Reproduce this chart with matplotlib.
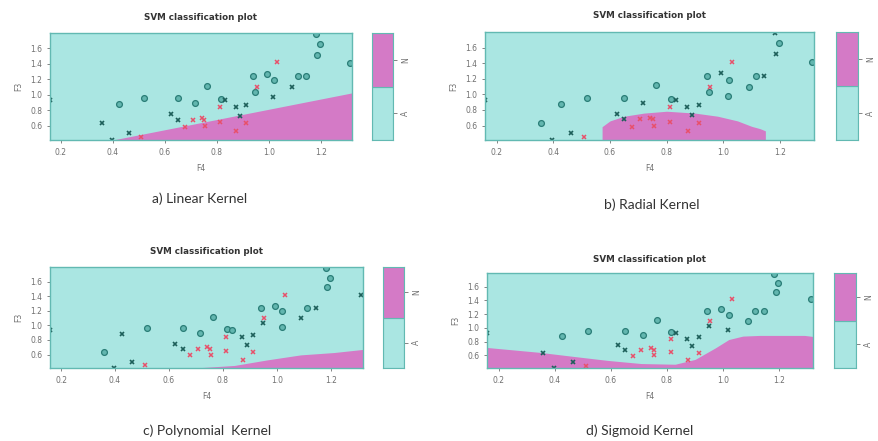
import numpy as np
import matplotlib.pyplot as plt

f4 = [0.16, 0.358, 0.426, 0.396, 0.464, 0.52, 0.51, 0.624, 0.651, 0.651,
      0.679, 0.707, 0.715, 0.743, 0.752, 0.755, 0.764, 0.813, 0.813, 0.815,
      0.833, 0.873, 0.874, 0.89, 0.913, 0.913, 0.941, 0.948, 0.954, 0.992,
      1.018, 1.02, 1.03, 1.09, 1.114, 1.144, 1.182, 1.187, 1.197, 1.313]
f3 = [0.93, 0.63, 0.876, 0.415, 0.50, 0.96, 0.45, 0.746, 0.96, 0.68,
      0.587, 0.68, 0.89, 0.70, 0.68, 0.60, 1.117, 0.837, 0.643, 0.945,
      0.93, 0.837, 0.527, 0.73, 0.63, 0.87, 1.24, 1.03, 1.10, 1.27,
      0.975, 1.19, 1.42, 1.10, 1.24, 1.24, 1.79, 1.52, 1.656, 1.415]
cls = ["A", "A", "A", "A", "A", "A", "N", "A", "A", "A",
       "N", "N", "A", "N", "N", "N", "A", "N", "N", "A",
       "A", "A", "N", "A", "N", "A", "A", "A", "N", "A",
       "A", "A", "N", "A", "A", "A", "A", "A", "A", "A"]

# support vectors ("x" markers) per kernel
sv_linear = [0, 1, 3, 4, 7, 9, 20, 21, 23, 25, 30, 33]
sv_radial = [0, 3, 4, 7, 9, 12, 20, 21, 23, 25, 29, 35, 36, 37]
sv_poly = [0, 2, 3, 4, 7, 9, 21, 23, 25, 27, 33, 35, 39]
sv_sigmoid = [0, 1, 3, 4, 7, 9, 20, 21, 23, 25, 27, 30]

# decision boundaries (class N region lies below these curves)
lin_x = [0.40, 1.32]
lin_y = [0.415, 1.025]
rad_x = [0.57, 0.57, 0.60, 0.65, 0.72, 0.80, 0.90, 0.98, 1.05, 1.10, 1.13, 1.15, 1.15]
rad_y = [0.415, 0.58, 0.66, 0.72, 0.76, 0.784, 0.76, 0.72, 0.66, 0.59, 0.56, 0.53, 0.415]
poly_x = [0.695, 0.843, 0.966, 1.089, 1.212, 1.32]
poly_y = [0.415, 0.45, 0.527, 0.595, 0.627, 0.67]
sig_x = [0.154, 0.347, 0.467, 0.588, 0.708, 0.829, 0.90, 0.973, 1.02, 1.07, 1.13, 1.29, 1.33]
sig_y = [0.716, 0.643, 0.584, 0.526, 0.48, 0.47, 0.54, 0.71, 0.83, 0.88, 0.89, 0.89, 0.87]

XLIM = (0.159, 1.32)
YLIM = (0.415, 1.80)
CYAN = "#aae6e2"
MAGENTA = "#d47ac6"
EDGE = "#62b9b2"
GREY = "#707070"

W, H = 879, 441
fig = plt.figure(figsize=(W / 100, H / 100), dpi=100)


def box(l, t, r, b):
    return [l / W, 1 - b / H, (r - l) / W, (b - t) / H]


def panel(ax_px, cb_px, bx, by, sv, title_y, caption, cap_xy):
    ax = fig.add_axes(box(*ax_px))
    ax.set_facecolor(CYAN)
    xs = np.linspace(XLIM[0], XLIM[1], 400)
    top = np.interp(xs, bx, by, left=np.nan, right=np.nan)
    ok = ~np.isnan(top)
    ax.fill_between(xs[ok], YLIM[0] - 0.1, top[ok], color=MAGENTA, lw=0)
    for i in range(len(f4)):
        if cls[i] == "N":
            ax.plot(f4[i], f3[i], "x", color="#e8506a", ms=2.6, mew=1.1)
        elif i in sv:
            ax.plot(f4[i], f3[i], "x", color="#1d5f5a", ms=3.0, mew=1.2)
        else:
            ax.plot(f4[i], f3[i], "o", mfc="#62b6af", mec="#2a7d77", ms=4.2, mew=0.9)
    ax.set_xlim(*XLIM)
    ax.set_ylim(*YLIM)
    ax.set_xticks([0.2, 0.4, 0.6, 0.8, 1.0, 1.2])
    ax.set_yticks([0.6, 0.8, 1.0, 1.2, 1.4, 1.6])
    ax.set_xticklabels(["0.2", "0.4", "0.6", "0.8", "1.0", "1.2"])
    ax.set_yticklabels(["0.6", "0.8", "1.0", "1.2", "1.4", "1.6"])
    ax.tick_params(labelsize=5.5, colors=GREY, length=2.5, width=0.6, pad=3)
    for s in ax.spines.values():
        s.set_color(EDGE)
        s.set_linewidth(1.0)
    ax.set_xlabel("F4", fontsize=5.5, color=GREY, labelpad=5)
    ax.set_ylabel("F3", fontsize=5.5, color=GREY, labelpad=5)
    cx = (ax_px[0] + ax_px[2]) / 2
    fig.text(cx / W, 1 - title_y / H, "SVM classification plot", fontsize=6.3,
             fontweight="bold", color="#333333", ha="center", va="center")
    fig.text(cap_xy[0] / W, 1 - cap_xy[1] / H, caption, fontsize=10,
             family="Lato", color="#333333", ha="center", va="center")

    cb = fig.add_axes(box(cb_px[0], ax_px[1], cb_px[1], ax_px[3]))
    cb.bar([0, 0], [1, 1], bottom=[0, 1], width=1, color=[CYAN, MAGENTA],
           edgecolor=EDGE, lw=0.8)
    cb.set_xlim(-0.5, 0.5)
    cb.set_ylim(0, 2)
    cb.set_xticks([])
    cb.yaxis.tick_right()
    cb.set_yticks([0.5, 1.5])
    cb.set_yticklabels(["A", "N"], rotation=90, va="center")
    cb.tick_params(labelsize=5.5, colors=GREY, length=3, width=0.6, pad=3)
    for s in cb.spines.values():
        s.set_color(EDGE)


panel((50, 33, 352, 140), (372, 393), lin_x, lin_y, sv_linear, 17,
      "a) Linear Kernel", (200, 199))
panel((485, 32, 814, 140), (836, 858), rad_x, rad_y, sv_radial, 16,
      "b) Radial Kernel", (652, 205))
panel((50, 267, 363, 368), (383, 404), poly_x, poly_y, sv_poly, 252,
      "c) Polynomial  Kernel", (207, 431))
panel((487, 273, 813, 368), (834, 856), sig_x, sig_y, sv_sigmoid, 259,
      "d) Sigmoid Kernel", (640, 431))

fig.savefig("out.png", dpi=100)
